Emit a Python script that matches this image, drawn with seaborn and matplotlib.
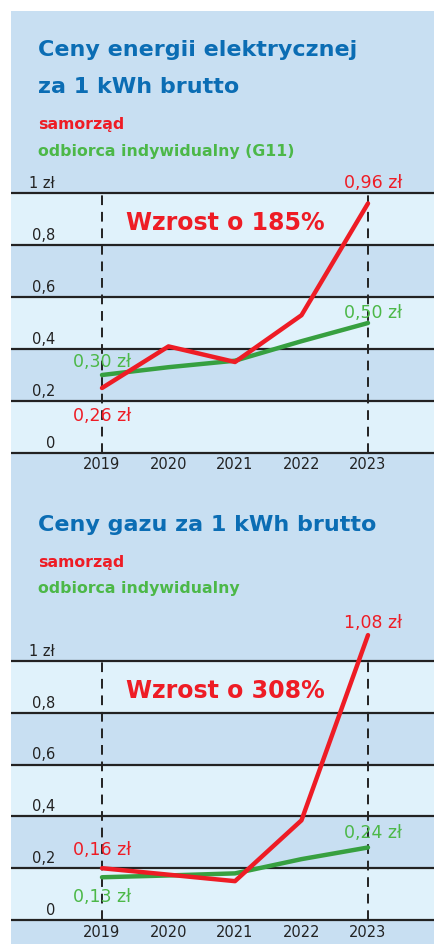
import matplotlib
matplotlib.use("Agg")
import matplotlib.pyplot as plt
import matplotlib.patches as mpatches
import seaborn as sns
import pandas as pd

# ---------------- data ----------------
years = [2019, 2020, 2021, 2022, 2023]
elec_samorzad = [0.25, 0.41, 0.35, 0.53, 0.96]
elec_g11 = [0.30, 0.33, 0.355, 0.43, 0.50]
gas_samorzad = [0.20, 0.175, 0.15, 0.385, 1.10]
gas_indywidualny = [0.165, 0.172, 0.18, 0.235, 0.28]

ytick_vals = [0, 0.2, 0.4, 0.6, 0.8, 1.0]
ytick_labels = ["0", "0,2", "0,4", "0,6", "0,8", "1 zł"]

titles = ["Ceny energii elektrycznej\nza 1 kWh brutto", "Ceny gazu za 1 kWh brutto"]
legend_red = ["samorząd", "samorząd"]
legend_green = ["odbiorca indywidualny (G11)", "odbiorca indywidualny"]
growth = ["Wzrost o 185%", "Wzrost o 308%"]
start_labels = [("0,26 zł", "0,30 zł"), ("0,16 zł", "0,13 zł")]
end_labels = [("0,96 zł", "0,50 zł"), ("1,08 zł", "0,24 zł")]

# ---------------- style ----------------
sns.set_style("white")
plt.rcParams["font.family"] = ["DejaVu Sans"]

MID = "#c8dff2"
LIGHT = "#e0f2fb"
BLUE = "#0b6db4"
RED = "#ee1c25"
GREEN_L = "#37a040"
GREEN_T = "#4cb848"
DARK = "#222222"

W, H = 434, 945
fig = plt.figure(figsize=(W / 100, H / 100), dpi=100)
fig.patch.set_facecolor("white")
bg = mpatches.Rectangle((11 / W, 0), (W - 11) / W, (H - 12) / H,
                        transform=fig.transFigure, facecolor=MID,
                        edgecolor="none", zorder=-5)
fig.patches.append(bg)

def px_axes(top, bottom):
    a = fig.add_axes([11 / W, (H - bottom) / H, (W - 11) / W, (bottom - top) / H])
    a.set_zorder(1)
    return a

# pixel geometry
x2019, x2023 = 102, 368
ppy = (x2023 - x2019) / 4
xl = 2019 - (x2019 - 11) / ppy
xr = 2023 + (W - x2023) / ppy

panels = [
    dict(top=160, bottom=480, y0=454, y1=194, red=elec_samorzad, green=elec_g11,
         title_y=[50, 87], red_y=125, green_y=152, growth_y=223,
         end_y=(183, 313), start_y=(416, 362), xlab_y=465),
    dict(top=610, bottom=945, y0=921, y1=662, red=gas_samorzad, green=gas_indywidualny,
         title_y=[525], red_y=563, green_y=588, growth_y=691,
         end_y=(623, 833), start_y=(850, 897), xlab_y=933),
]

def fy(py):
    return 1 - py / H

for i, p in enumerate(panels):
    ax = px_axes(p["top"], p["bottom"])
    ppu = p["y0"] - p["y1"]
    ylo = (p["y0"] - p["bottom"]) / ppu
    yhi = (p["y0"] - p["top"]) / ppu
    ax.set_xlim(xl, xr)
    ax.set_ylim(ylo, yhi)
    ax.set_facecolor(MID)
    for s in ax.spines.values():
        s.set_visible(False)
    for a, b in [(0, 0.2), (0.4, 0.6), (0.8, 1.0)]:
        ax.axhspan(a, b, color=LIGHT, zorder=0.5, lw=0)
    for v in ytick_vals:
        ax.axhline(v, color=DARK, lw=1.6, zorder=1)
    for v, lab in zip(ytick_vals, ytick_labels):
        ax.text(2019 - (x2019 - 55) / ppy, v + 0.012, lab, ha="right", va="bottom",
                fontsize=10.5, color=DARK, zorder=3)
    for xv in (2019, 2023):
        ax.plot([xv, xv], [0, 1], color=DARK, lw=1.4, ls=(0, (5, 3.5)), zorder=1.5)

    df = pd.DataFrame({"year": years * 2,
                       "value": p["green"] + p["red"],
                       "series": ["g"] * 5 + ["r"] * 5})
    sns.lineplot(data=df[df.series == "g"], x="year", y="value", color=GREEN_L,
                 lw=3.2, ax=ax, zorder=2, legend=False)
    sns.lineplot(data=df[df.series == "r"], x="year", y="value", color=RED,
                 lw=3.2, ax=ax, zorder=2.2, legend=False)

    ax.set_xticks([])
    ax.set_yticks([])
    ax.set_xlabel("")
    ax.set_ylabel("")
    ylab = (p["y0"] - p["xlab_y"]) / ppu
    for y in years:
        ax.text(y, ylab, str(y), ha="center", va="center", fontsize=10.5, color=DARK)

    fig.text(225 / W, fy(p["growth_y"]), growth[i], ha="center", va="center",
             fontsize=17, fontweight="heavy", color=RED, zorder=5)
    fig.text(373 / W, fy(p["end_y"][0]), end_labels[i][0], ha="center", va="center",
             fontsize=12.5, color=RED, zorder=5)
    fig.text(373 / W, fy(p["end_y"][1]), end_labels[i][1], ha="center", va="center",
             fontsize=12.5, color=GREEN_T, zorder=5)
    fig.text(102 / W, fy(p["start_y"][0]), start_labels[i][0], ha="center", va="center",
             fontsize=12.5, color=RED, zorder=5)
    fig.text(102 / W, fy(p["start_y"][1]), start_labels[i][1], ha="center", va="center",
             fontsize=12.5, color=GREEN_T, zorder=5)

    for ty, line in zip(p["title_y"], titles[i].split("\n")):
        fig.text(38 / W, fy(ty), line, ha="left", va="center", fontsize=16,
                 fontweight="bold", color=BLUE, zorder=5)
    fig.text(38 / W, fy(p["red_y"]), legend_red[i], ha="left", va="center",
             fontsize=11.3, fontweight="bold", color=RED, zorder=5)
    fig.text(38 / W, fy(p["green_y"]), legend_green[i], ha="left", va="center",
             fontsize=11.3, fontweight="bold", color=GREEN_T, zorder=5)

fig.savefig("out.png", dpi=100, facecolor=fig.get_facecolor())
